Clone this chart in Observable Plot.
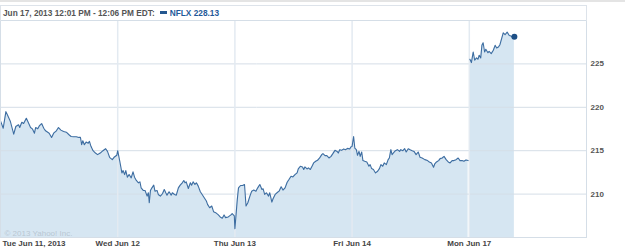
<!DOCTYPE html>
<html><head><meta charset="utf-8">
<script src="https://cdn.jsdelivr.net/npm/d3@7"></script>
<script src="https://cdn.jsdelivr.net/npm/@observablehq/plot@0.6"></script>
<style>
body{margin:0;background:#fff;font-family:"Liberation Sans",Arial,sans-serif;}
#wrap{position:relative;width:625px;height:250px;overflow:hidden;}
#chart{position:absolute;left:0;top:0;}
#topline{position:absolute;left:0;top:0;width:625px;height:2px;background:#e4e4e4;}
#box{position:absolute;left:0;top:5px;width:585px;height:15px;border:1px solid #dde3ea;border-bottom:none;}
#legend{position:absolute;left:3px;top:8px;font-size:8.3px;font-weight:bold;color:#555;white-space:nowrap;line-height:10px;}
#legend .sw{display:inline-block;width:7px;height:3px;background:#24578f;margin:0 3px 2px 5px;vertical-align:middle;}
#legend .tk{color:#1f5a99;}
</style></head>
<body>
<div id="wrap">
  <div id="chart"></div>
  <div id="topline"></div>
  <div id="box"></div>
  <div id="legend"></div>
</div>
<script>
// ---- data ----
const sessionMinutes = 390;               // 9:30 - 16:00
const dayLabels = ["Tue Jun 11, 2013", "Wed Jun 12", "Thu Jun 13", "Fri Jun 14", "Mon Jun 17"];
const yTicks = [210, 215, 220, 225];
const yDomain = [205, 230];
const titleText = "Jun 17, 2013 12:01 PM - 12:06 PM EDT:";
const seriesName = "NFLX 228.13";
const watermark = "\u00a9 2013 Yahoo! Inc.";

const tueMin = [0,9,18,24,33,44,51,60,64,71,77,86,91,100,106,113,117,124,130,137,144,150,162,170,177,186,193,201,210,219,228,235,243,252,261,266,270,274,279,285,292,296,301,308,316,323,332,341,350,356,363,372,378,387];
const tuePrice = [218.44,217.59,219.50,219.05,218.36,216.90,217.79,217.98,217.67,218.28,218.13,218.74,218.36,217.67,217.52,217.02,217.67,217.52,217.90,218.13,217.59,217.29,217.02,216.53,217.02,217.29,217.67,217.37,217.21,217.13,216.84,216.64,216.61,216.61,216.53,216.53,215.69,216.15,215.69,215.99,215.87,216.07,215.50,215.00,214.73,214.55,214.73,215.00,215.23,214.92,214.24,213.97,214.24,214.47];

const wedMin = [0,7,14,18,23,27,32,38,45,51,56,62,69,74,78,85,91,98,102,105,109,114,120,124,131,135,142,149,155,160,164,171,178,182,189,195,202,208,215,220,224,228,235,242,246,251,257,262,268,275,281,288,295,299,306,313,319,326,335,341,348,354,359,368,377,381,388];
const wedPrice = [215.00,213.78,212.44,212.71,212.25,212.71,211.95,212.25,211.87,212.56,211.95,211.57,211.30,211.41,210.72,210.42,210.42,209.77,210.15,209.00,210.42,210.72,211.03,210.34,210.42,209.96,209.77,210.04,210.53,210.15,209.88,210.27,209.88,210.15,209.96,209.88,210.72,211.03,211.30,211.57,211.30,211.41,210.65,211.30,211.03,211.41,211.11,211.30,210.92,210.27,209.96,209.58,209.20,208.82,208.43,208.63,207.98,207.86,207.60,207.37,207.22,207.60,207.29,207.37,207.60,207.75,207.48];

const thuMin = [0,8,12,19,26,32,37,43,50,56,63,70,76,83,90,94,99,105,112,116,123,127,134,140,147,154,160,167,174,180,187,193,200,207,211,218,225,229,233,240,245,251,258,262,269,275,282,289,293,300,306,313,320,326,333,340,344,349,355,362,368,375,382,386];
const thuPrice = [206.00,209.39,210.72,210.99,210.99,211.11,208.63,209.00,209.77,210.34,210.46,210.34,210.72,211.11,210.53,210.61,209.96,210.15,209.77,210.15,209.08,209.46,209.96,210.15,210.34,210.84,210.46,210.72,211.37,211.68,212.06,211.98,212.25,212.44,212.90,213.21,213.13,212.83,213.13,212.90,213.02,212.83,213.29,213.59,213.78,213.89,214.16,214.55,214.66,214.43,214.43,214.16,214.35,214.66,215.04,214.92,214.73,215.12,215.04,215.19,215.12,215.27,215.19,215.42];

const friMin = [0,5,9,14,18,23,27,32,36,42,49,56,60,65,71,78,85,91,96,102,107,114,120,124,129,133,140,144,151,158,162,169,175,180,187,193,200,206,213,220,226,233,242,251,257,264,271,275,281,288,293,300,306,313,320,326,333,339,346,353,359,366,372,379,386];
const friPrice = [215.50,216.64,215.31,215.12,214.47,214.92,214.35,214.85,213.86,213.78,213.70,213.21,213.40,212.94,212.83,212.44,212.63,212.94,213.40,213.21,213.59,213.40,213.97,214.16,215.12,214.55,214.85,215.00,215.12,214.92,215.12,215.00,215.23,214.85,215.23,215.12,215.00,214.92,214.55,214.85,214.24,214.16,213.97,213.86,213.70,213.59,213.09,213.47,213.70,213.86,214.09,214.16,214.35,213.97,213.70,213.59,213.86,213.86,213.97,214.16,213.86,213.86,213.78,213.93,213.86];

const monMin = [2,7,13,18,24,29,33,38,42,46,51,55,62,66,73,80,86,91,97,102,109,113,119,126,133,139,146,150];
const monPrice = [225.54,225.15,226.37,225.42,225.69,225.54,226.00,225.69,227.14,227.44,226.37,226.68,226.29,226.45,226.18,226.57,227.14,226.83,226.95,227.21,228.09,228.58,228.36,228.66,228.28,228.21,227.98,228.13];

// ---- build table ----
const days = [[tueMin,tuePrice],[wedMin,wedPrice],[thuMin,thuPrice],[friMin,friPrice],[monMin,monPrice]];
const rows = [];
days.forEach(([mins, prices], i) => mins.forEach((m, j) => rows.push({t: i*sessionMinutes + m, price: prices[j], seg: i === 4 ? "after weekend" : "week"})));
const last = [rows[rows.length - 1]];
const dayStarts = dayLabels.map((_, i) => i*sessionMinutes);
const labelAt = new Map(dayStarts.map((t, i) => [t, dayLabels[i]]));

document.getElementById("legend").innerHTML =
  `<span>${titleText}</span><span class="sw"></span><span class="tk">${seriesName}</span>`;

const chart = Plot.plot({
  width: 625, height: 250,
  marginTop: 20, marginBottom: 13, marginLeft: 0, marginRight: 39,
  x: {domain: [0, dayLabels.length*sessionMinutes], axis: null},
  y: {domain: yDomain, axis: null},
  style: {fontFamily: "Liberation Sans, Arial, sans-serif", fontSize: "8px", background: "transparent"},
  marks: [
    Plot.areaY(rows, {x: "t", y1: yDomain[0], y2: "price", z: "seg", fill: "#d6e6f2"}),
    Plot.ruleY(yTicks, {stroke: "#d5dee7"}),
    Plot.ruleX(dayStarts.slice(1), {stroke: "#e3eaf1", strokeWidth: 1.5}),
    Plot.lineY(rows, {x: "t", y: "price", z: "seg", stroke: "#3d6da1", strokeWidth: 1.1}),
    Plot.dot(last, {x: "t", y: "price", r: 3, fill: "#1d4f86"}),
    Plot.frame({stroke: "#d5dee7"}),
    Plot.text([watermark], {frameAnchor: "bottom-left", dx: 4, dy: -2, fill: "#b9c6d2", fontSize: 8}),
    Plot.axisY(yTicks, {anchor: "right", label: null, tickSize: 0, tickPadding: 4, fill: "#555", fontWeight: "bold"}),
    Plot.axisX(dayStarts.slice(0, 1), {label: null, tickSize: 0, tickPadding: 3, textAnchor: "start", dx: 2, fill: "#444", fontWeight: "bold", tickFormat: d => labelAt.get(d)}),
    Plot.axisX(dayStarts.slice(1), {label: null, tickSize: 0, tickPadding: 3, fill: "#444", fontWeight: "bold", tickFormat: d => labelAt.get(d)})
  ]
});
document.getElementById("chart").appendChild(chart);
</script>
</body></html>
